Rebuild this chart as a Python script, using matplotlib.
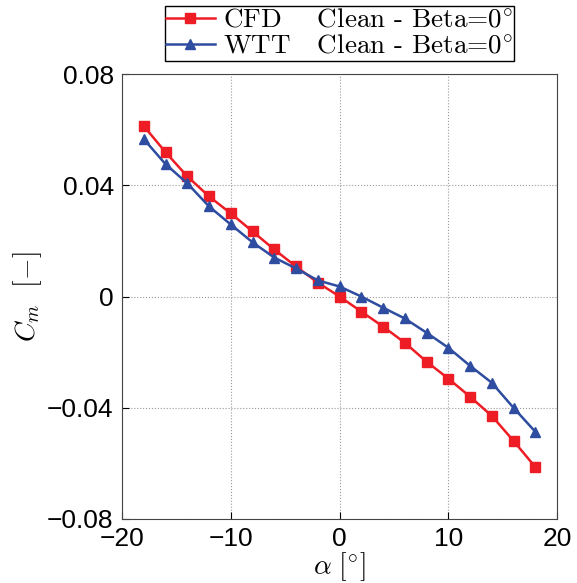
import matplotlib
matplotlib.use('Agg')
import matplotlib.pyplot as plt

# angle of attack [deg]
alpha = [-18, -16, -14, -12, -10, -8, -6, -4, -2, 0, 2, 4, 6, 8, 10, 12, 14, 16, 18]

# pitching moment coefficient
cm_cfd = [0.0613, 0.0519, 0.0432, 0.0360, 0.0299, 0.0234, 0.0169, 0.0108, 0.0050, 0.0,
          -0.0054, -0.0108, -0.0166, -0.0234, -0.0295, -0.0360, -0.0429, -0.0519, -0.0613]
cm_wtt = [0.0566, 0.0476, 0.0407, 0.0324, 0.0259, 0.0195, 0.0140, 0.0101, 0.0058, 0.0036,
          0.0, -0.0040, -0.0079, -0.0130, -0.0184, -0.0249, -0.0310, -0.0400, -0.0486]

xticks = [-20, -10, 0, 10, 20]
yticks = [-0.08, -0.04, 0, 0.04, 0.08]
ytick_labels = ['\u22120.08', '\u22120.04', '0', '0.04', '0.08']
xtick_labels = ['\u221220', '\u221210', '0', '10', '20']

plt.rcParams['mathtext.fontset'] = 'cm'
plt.rcParams['font.family'] = ['Liberation Sans', 'DejaVu Sans']

fig = plt.figure(figsize=(5.77, 5.83), dpi=100)
ax = fig.add_axes([122 / 577, 1 - 519 / 583, 435 / 577, 445 / 583])

ax.plot(alpha, cm_cfd, '-s', color='#ee1c25', lw=1.8, ms=6.5,
        label=r'$\text{CFD    Clean - Beta=0}^{\circ}$')
ax.plot(alpha, cm_wtt, '-^', color='#2e4da0', lw=1.8, ms=7.5,
        label=r'$\text{WTT   Clean - Beta=0}^{\circ}$')

ax.set_xlim(-20, 20)
ax.set_ylim(-0.08, 0.08)
ax.set_xticks(xticks)
ax.set_xticklabels(xtick_labels)
ax.set_yticks(yticks)
ax.set_yticklabels(ytick_labels)
ax.tick_params(direction='in', labelsize=19, length=5, pad=6)
ax.grid(True, linestyle=':', color='#999999', linewidth=0.8)
for s in ax.spines.values():
    s.set_color('#444444')

ax.set_xlabel(r'$\alpha\ [^{\circ}]$', fontsize=20, labelpad=-1)
ax.set_ylabel(r'$C_m\ \ [-]$', fontsize=20, labelpad=2)

leg = ax.legend(loc='lower center', bbox_to_anchor=(0.5, 1.03), fontsize=19.5,
                frameon=True, fancybox=False, edgecolor='black', framealpha=1,
                labelspacing=0.0, borderpad=0.05, handlelength=1.8,
                handletextpad=0.3, borderaxespad=0)
leg.get_frame().set_linewidth(1.0)

fig.savefig('out.png', dpi=100)
